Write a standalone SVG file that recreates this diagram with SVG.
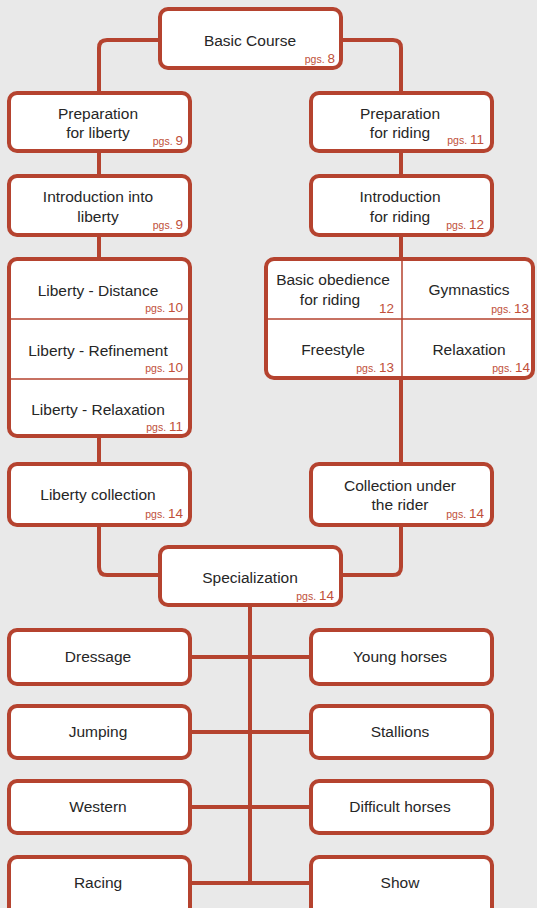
<svg xmlns="http://www.w3.org/2000/svg" width="537" height="908" viewBox="0 0 537 908">
<style>
.bg{fill:#e9e9e9}
.box{fill:#ffffff;stroke:#b5432f;stroke-width:4}
.div{stroke:#b5432f;stroke-width:1.5;fill:none}
.con{stroke:#b5432f;stroke-width:4;fill:none}
.t{font-family:"Liberation Sans",Arial,sans-serif;font-size:15.5px;fill:#262626;text-anchor:middle}
.p{font-family:"Liberation Sans",Arial,sans-serif;font-size:10.5px;fill:#c0503a;text-anchor:end}
.n{font-size:13.5px}
</style>
<rect class="bg" x="0" y="0" width="537" height="908"/>
<g id="connectors">
<path class="con" d="M160,40 H107 Q99,40 99,48 V93"/>
<path class="con" d="M341,40 H393 Q401,40 401,48 V93"/>
<path class="con" d="M99,151 V176 M99,235 V259 M99,436 V464"/>
<path class="con" d="M99,525 V567 Q99,575 107,575 H160"/>
<path class="con" d="M401,151 V176 M401,235 V259 M401,378 V464"/>
<path class="con" d="M401,525 V567 Q401,575 393,575 H341"/>
<path class="con" d="M250,605 V883"/>
<path class="con" d="M190,657 H311 M190,732 H311 M190,807 H311 M190,883 H311"/>
</g>
<g id="basic-course">
<rect class="box" x="160" y="9" width="181" height="59" rx="8"/>
<text class="t" x="250" y="46">Basic Course</text>
<text class="p" x="335" y="63">pgs. <tspan class="n">8</tspan></text>
</g>
<g id="prep-liberty">
<rect class="box" x="9" y="93" width="181" height="58" rx="8"/>
<text class="t" x="98" y="119">Preparation</text>
<text class="t" x="98" y="138">for liberty</text>
<text class="p" x="183" y="145">pgs. <tspan class="n">9</tspan></text>
</g>
<g id="intro-liberty">
<rect class="box" x="9" y="176" width="181" height="59" rx="8"/>
<text class="t" x="98" y="202">Introduction into</text>
<text class="t" x="98" y="222">liberty</text>
<text class="p" x="183" y="229">pgs. <tspan class="n">9</tspan></text>
</g>
<g id="liberty-group">
<rect class="box" x="9" y="259" width="181" height="177" rx="8"/>
<path class="div" d="M9,319 H190 M9,379 H190"/>
<text class="t" x="98" y="296">Liberty - Distance</text>
<text class="p" x="183" y="312">pgs. <tspan class="n">10</tspan></text>
<text class="t" x="98" y="356">Liberty - Refinement</text>
<text class="p" x="183" y="372">pgs. <tspan class="n">10</tspan></text>
<text class="t" x="98" y="415">Liberty - Relaxation</text>
<text class="p" x="183" y="431">pgs. <tspan class="n">11</tspan></text>
</g>
<g id="liberty-collection">
<rect class="box" x="9" y="464" width="181" height="61" rx="8"/>
<text class="t" x="98" y="500">Liberty collection</text>
<text class="p" x="183" y="518">pgs. <tspan class="n">14</tspan></text>
</g>
<g id="prep-riding">
<rect class="box" x="311" y="93" width="181" height="58" rx="8"/>
<text class="t" x="400" y="119">Preparation</text>
<text class="t" x="400" y="138">for riding</text>
<text class="p" x="484" y="144">pgs. <tspan class="n">11</tspan></text>
</g>
<g id="intro-riding">
<rect class="box" x="311" y="176" width="181" height="59" rx="8"/>
<text class="t" x="400" y="202">Introduction</text>
<text class="t" x="400" y="222">for riding</text>
<text class="p" x="484" y="229">pgs. <tspan class="n">12</tspan></text>
</g>
<g id="riding-group">
<rect class="box" x="266" y="259" width="267" height="119" rx="8"/>
<path class="div" d="M266,319 H533 M402,259 V378"/>
<text class="t" x="333" y="285">Basic obedience</text>
<text class="t" x="330" y="305">for riding</text>
<text class="p" x="394" y="313"><tspan class="n">12</tspan></text>
<text class="t" x="469" y="295">Gymnastics</text>
<text class="p" x="529" y="313">pgs. <tspan class="n">13</tspan></text>
<text class="t" x="333" y="355">Freestyle</text>
<text class="p" x="394" y="372">pgs. <tspan class="n">13</tspan></text>
<text class="t" x="469" y="355">Relaxation</text>
<text class="p" x="530" y="372">pgs. <tspan class="n">14</tspan></text>
</g>
<g id="collection-rider">
<rect class="box" x="311" y="464" width="181" height="61" rx="8"/>
<text class="t" x="400" y="491">Collection under</text>
<text class="t" x="400" y="510">the rider</text>
<text class="p" x="484" y="518">pgs. <tspan class="n">14</tspan></text>
</g>
<g id="specialization">
<rect class="box" x="160" y="547" width="181" height="58" rx="8"/>
<text class="t" x="250" y="583">Specialization</text>
<text class="p" x="334" y="600">pgs. <tspan class="n">14</tspan></text>
</g>
<g id="dressage">
<rect class="box" x="9" y="630" width="181" height="54" rx="8"/>
<text class="t" x="98" y="662">Dressage</text>
</g>
<g id="young-horses">
<rect class="box" x="311" y="630" width="181" height="54" rx="8"/>
<text class="t" x="400" y="662">Young horses</text>
</g>
<g id="jumping">
<rect class="box" x="9" y="706" width="181" height="52" rx="8"/>
<text class="t" x="98" y="737">Jumping</text>
</g>
<g id="stallions">
<rect class="box" x="311" y="706" width="181" height="52" rx="8"/>
<text class="t" x="400" y="737">Stallions</text>
</g>
<g id="western">
<rect class="box" x="9" y="781" width="181" height="52" rx="8"/>
<text class="t" x="98" y="812">Western</text>
</g>
<g id="difficult-horses">
<rect class="box" x="311" y="781" width="181" height="52" rx="8"/>
<text class="t" x="400" y="812">Difficult horses</text>
</g>
<g id="racing">
<rect class="box" x="9" y="857" width="181" height="60" rx="8"/>
<text class="t" x="98" y="888">Racing</text>
</g>
<g id="show">
<rect class="box" x="311" y="857" width="181" height="60" rx="8"/>
<text class="t" x="400" y="888">Show</text>
</g>
</svg>
